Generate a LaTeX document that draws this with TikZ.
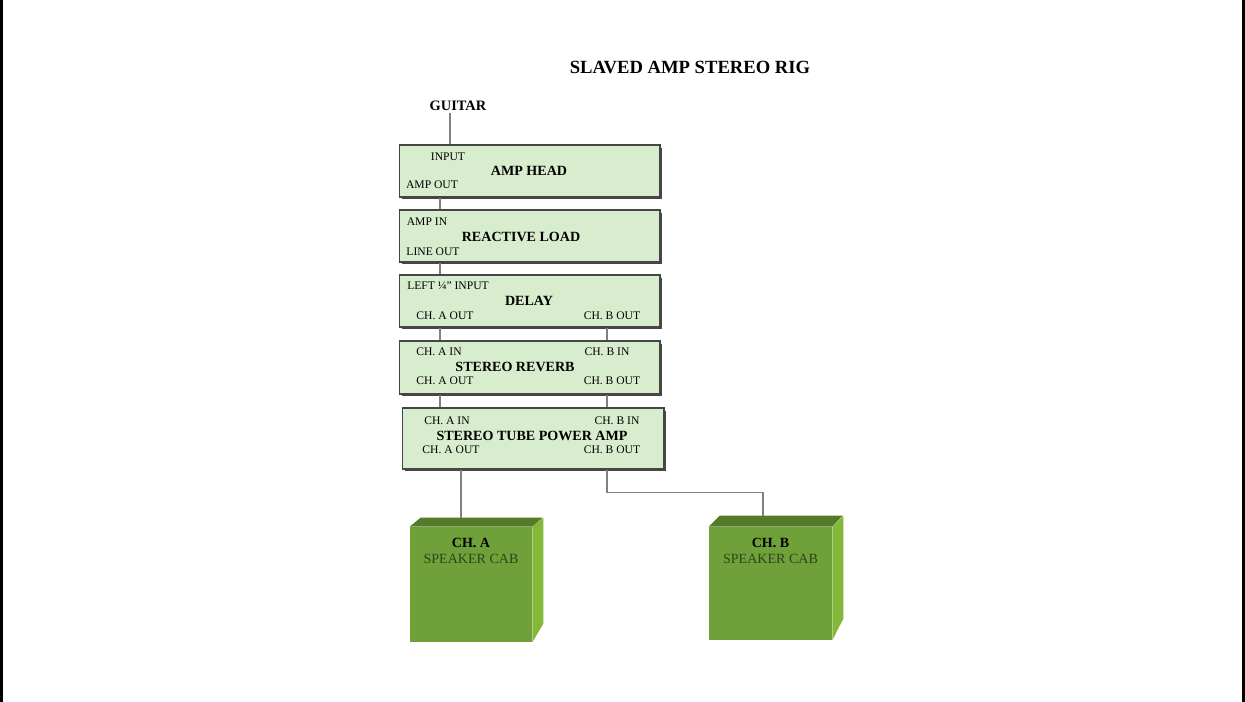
\documentclass[tikz,border=0pt]{standalone}
\usepackage{fontspec}
\setmainfont{Liberation Serif}
\usepackage{xcolor}
\usetikzlibrary{shapes,arrows,positioning,calc,shadows}

\definecolor{unitfill}{RGB}{216,236,206}
\definecolor{cabfront}{RGB}{112,160,58}
\definecolor{cabtop}{RGB}{84,122,42}
\definecolor{cabside}{RGB}{132,184,58}
\definecolor{cabtext}{RGB}{44,70,26}

\begin{document}
\begin{tikzpicture}[x=0.02cm, y=-0.02cm,
    unitbox/.style={draw=gray!55!black, line width=0.6pt, fill=unitfill, rectangle, minimum width=5.22cm, minimum height=1.04cm, inner sep=0pt,
        drop shadow={shadow xshift=0.05cm, shadow yshift=-0.05cm, fill=gray!55!black, opacity=1}},
    unitname/.style={font=\fontsize{8}{9}\selectfont\bfseries, inner sep=0pt},
    port/.style={font=\fontsize{6.6}{7}\selectfont, inner sep=0pt},
    wire/.style={draw=gray, line width=0.8pt},
    cab/.style={fill=cabfront, rectangle, minimum width=2.44cm, minimum height=2.3cm, inner sep=0pt}]
    \useasboundingbox (0,0) rectangle (1245,702);
    \draw[line width=1.6pt] (1.5,0) -- (1.5,702);
    \draw[line width=1.6pt] (1243.5,0) -- (1243.5,702);

    \node[font=\fontsize{10.6}{12}\selectfont\bfseries] (title) at (690,67) {SLAVED AMP STEREO RIG};
    \node[font=\fontsize{8.2}{9}\selectfont\bfseries, inner sep=1pt] (guitar) at (458,106) {GUITAR};

    % lanes for the cables
    \coordinate (gl) at (450,0);
    \coordinate (la) at (440,0);
    \coordinate (lb) at (607,0);
    \coordinate (ca) at (461,0);
    \coordinate (cb) at (763,0);

    \node[unitbox] (amphead) at (529.5,171) {};
    \node[unitbox] (load) at (529.5,236) {};
    \node[unitbox] (delay) at (529.5,301) {};
    \node[unitbox, minimum height=1.06cm] (reverb) at (529.5,367.5) {};
    \node[unitbox, minimum width=5.24cm, minimum height=1.22cm] (poweramp) at (533,438.5) {};

    \node[unitname] (ahname) at (529,171) {AMP HEAD};
    \node[port] (ahin) at (448,157) {INPUT};
    \node[port] (ahout) at (432,185) {AMP OUT};

    \node[unitname] (ldname) at (521,237) {REACTIVE LOAD};
    \node[port] (ldin) at (427,222) {AMP IN};
    \node[port] (ldout) at (433,252) {LINE OUT};

    \node[unitname] (dlname) at (529,301) {DELAY};
    \node[port] (dlin) at (448,286) {LEFT ¼" INPUT};
    \node[port] (dlouta) at (445,316) {CH. A OUT};
    \node[port] (dloutb) at (612,316) {CH. B OUT};

    \node[unitname] (rvname) at (515,367) {STEREO REVERB};
    \node[port] (rvina) at (439,352) {CH. A IN};
    \node[port] (rvinb) at (607,352) {CH. B IN};
    \node[port] (rvouta) at (445,381) {CH. A OUT};
    \node[port] (rvoutb) at (612,381) {CH. B OUT};

    \node[unitname] (paname) at (532,436) {STEREO TUBE POWER AMP};
    \node[port] (paina) at (447,421) {CH. A IN};
    \node[port] (painb) at (617,421) {CH. B IN};
    \node[port] (pachouta) at (451,450) {CH. A OUT};
    \node[port] (pachoutb) at (612,450) {CH. B OUT};

    % speaker cabs
    \node[cab] (caba) at (471,584.5) {};
    \fill[cabtop] (caba.north west) -- ++(11,-9) -- ++(122,0) -- (caba.north east) -- cycle;
    \fill[cabside] (caba.north east) -- ++(11,-9) -- ++(0,106) -- (caba.south east) -- cycle;
    \node[font=\fontsize{8}{9.2}\selectfont, text=cabtext, align=center, below=0.1cm of caba.north] (cabalabel)
        {\textcolor{black}{\bfseries CH. A}\\SPEAKER CAB};

    \node[cab, minimum width=2.46cm, minimum height=2.26cm] (cabb) at (770.5,583.5) {};
    \fill[cabtop] (cabb.north west) -- ++(11,-11) -- ++(123,0) -- (cabb.north east) -- cycle;
    \fill[cabside] (cabb.north east) -- ++(11,-11) -- ++(0,103) -- (cabb.south east) -- cycle;
    \node[font=\fontsize{8}{9.2}\selectfont, text=cabtext, align=center, below=0.1cm of cabb.north] (cabblabel)
        {\textcolor{black}{\bfseries CH. B}\\SPEAKER CAB};

    % cables
    \draw[wire] (guitar.south -| gl) -- (amphead.north -| gl);
    \draw[wire] (amphead.south -| la) -- (load.north -| la);
    \draw[wire] (load.south -| la) -- (delay.north -| la);
    \draw[wire] (delay.south -| la) -- (reverb.north -| la);
    \draw[wire] (delay.south -| lb) -- (reverb.north -| lb);
    \draw[wire] (reverb.south -| la) -- (poweramp.north -| la);
    \draw[wire] (reverb.south -| lb) -- (poweramp.north -| lb);
    \draw[wire] (poweramp.south -| ca) -- ($(caba.north -| ca)+(0,-9)$);
    \draw[wire] (poweramp.south -| lb) -- ++(0,23) -| ($(cabb.north -| cb)+(0,-11)$);
\end{tikzpicture}
\end{document}
